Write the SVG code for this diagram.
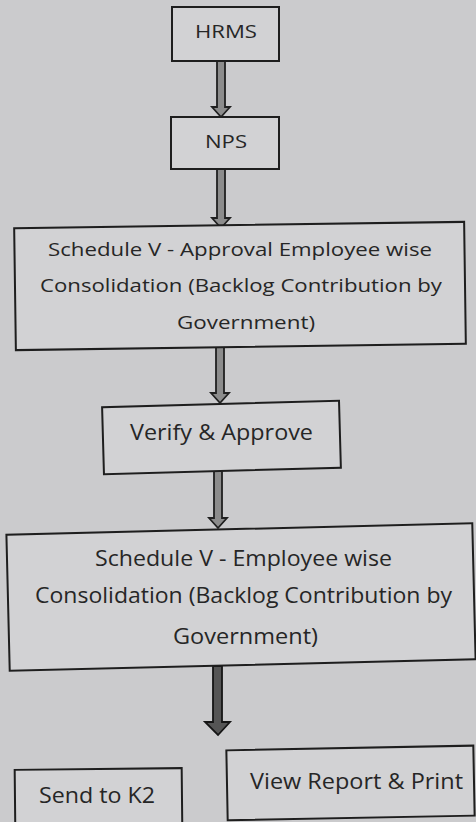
<svg xmlns="http://www.w3.org/2000/svg" width="476" height="822" viewBox="0 0 476 822">
<style>
.box{fill:#d2d2d4;stroke:#1e1e1e;stroke-width:2}
.t{font-family:"Open Sans","Liberation Sans",sans-serif;fill:#262626;lengthAdjust:spacingAndGlyphs}
.s{font-size:19px}
.l{font-size:21px}
.arr{fill:#8c8c8c;stroke:#202020;stroke-width:1.8;stroke-linejoin:miter}
.arr2{fill:#555;stroke:#151515;stroke-width:1.8}
</style>
<rect x="0" y="0" width="476" height="822" fill="#cbcbcd"/>
<g id="connectors">
<polygon class="arr" points="217,61 225,61 225,107 230,107 221,117 212,107 217,107"/>
<polygon class="arr" points="217,169 225,169 225,218 230,218 221,228 212,218 217,218"/>
<polygon class="arr" points="216,346 224,346 224,393 229,393 220,403 211,393 216,393"/>
<polygon class="arr" points="214,471 222,471 222,518 227,518 218,528 209,518 214,518"/>
<polygon class="arr2" points="213,666 222,666 222,722 230,722 218,735 205,722 213,722"/>
</g>
<g id="hrms">
<rect class="box" x="172" y="7" width="107" height="54"/>
<text class="t s" x="195" y="38" textLength="62" lengthAdjust="spacingAndGlyphs">HRMS</text>
</g>
<g id="nps">
<rect class="box" x="171" y="117" width="108" height="52"/>
<text class="t s" x="205" y="148" textLength="42" lengthAdjust="spacingAndGlyphs">NPS</text>
</g>
<g id="schedule-approval">
<rect class="box" x="15" y="225" width="450" height="122" transform="rotate(-0.8 240 286)"/>
<text class="t s" x="48" y="256" textLength="384" lengthAdjust="spacingAndGlyphs">Schedule V - Approval Employee wise</text>
<text class="t s" x="40" y="292" textLength="402" lengthAdjust="spacingAndGlyphs">Consolidation (Backlog Contribution by</text>
<text class="t s" x="177" y="329" textLength="138" lengthAdjust="spacingAndGlyphs">Government)</text>
</g>
<g id="verify">
<rect class="box" x="103" y="404" width="237" height="67" transform="rotate(-1.6 221 438)"/>
<text class="t l" x="130" y="440" textLength="183" lengthAdjust="spacingAndGlyphs">Verify &amp; Approve</text>
</g>
<g id="schedule-employee">
<rect class="box" x="8" y="529" width="466" height="136" transform="rotate(-1.4 241 597)"/>
<text class="t l" x="95" y="566" textLength="297" lengthAdjust="spacingAndGlyphs">Schedule V - Employee wise</text>
<text class="t l" x="35" y="603" textLength="417" lengthAdjust="spacingAndGlyphs">Consolidation (Backlog Contribution by</text>
<text class="t l" x="173" y="644" textLength="145" lengthAdjust="spacingAndGlyphs">Government)</text>
</g>
<g id="view-report">
<rect class="box" x="227" y="748" width="247" height="70" transform="rotate(-1.1 350 783)"/>
<text class="t l" x="250" y="789" textLength="213" lengthAdjust="spacingAndGlyphs">View Report &amp; Print</text>
</g>
<g id="send-k2">
<rect class="box" x="15" y="769" width="167" height="70" transform="rotate(-0.6 98 800)"/>
<text class="t l" x="39" y="803" textLength="116" lengthAdjust="spacingAndGlyphs">Send to K2</text>
</g>
</svg>
